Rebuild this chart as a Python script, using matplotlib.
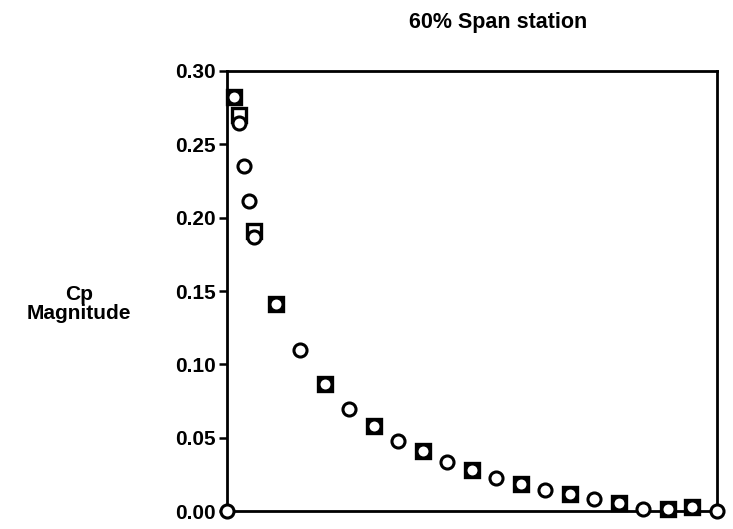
import matplotlib.pyplot as plt

plt.rcParams["font.family"] = ["Liberation Sans", "DejaVu Sans"]
plt.rcParams["font.weight"] = "bold"

# Chordwise station (x/c) and pressure coefficient magnitude, 60% span
x_circle = [0.0, 0.015, 0.025, 0.035, 0.045, 0.055, 0.10, 0.15, 0.20, 0.25,
            0.30, 0.35, 0.40, 0.45, 0.50, 0.55, 0.60, 0.65, 0.70, 0.75,
            0.80, 0.85, 0.90, 0.95, 1.0]
cp_circle = [0.0, 0.282, 0.264, 0.235, 0.211, 0.187, 0.141, 0.110, 0.087, 0.070,
             0.058, 0.048, 0.041, 0.034, 0.028, 0.023, 0.0185, 0.0146, 0.012, 0.0085,
             0.006, 0.002, 0.0015, 0.003, 0.0]

x_square = [0.015, 0.025, 0.055, 0.10, 0.20, 0.30, 0.40, 0.50, 0.60, 0.70,
            0.80, 0.90, 0.95]
cp_square = [0.282, 0.270, 0.191, 0.141, 0.087, 0.058, 0.041, 0.028, 0.0185, 0.012,
             0.006, 0.0015, 0.003]

y_ticks = [0.0, 0.05, 0.10, 0.15, 0.20, 0.25, 0.30]
y_tick_labels = ["0.00", "0.05", "0.10", "0.15", "0.20", "0.25", "0.30"]

fig = plt.figure(figsize=(7.33, 5.29), dpi=100)
ax = fig.add_axes([0.3097, 0.0331, 0.6683, 0.8336])

ax.plot(x_square, cp_square, linestyle="none", marker="s", markersize=9.7,
        markerfacecolor="white", markeredgecolor="black", markeredgewidth=2.4,
        clip_on=False, zorder=3)
ax.plot(x_circle, cp_circle, linestyle="none", marker="o", markersize=9.4,
        markerfacecolor="white", markeredgecolor="black", markeredgewidth=2.2,
        clip_on=False, zorder=4)

ax.set_xlim(0, 1.0)
ax.set_ylim(0, 0.30)
ax.set_xticks([])
ax.set_yticks(y_ticks)
ax.set_yticklabels(y_tick_labels, fontsize=15, fontweight="bold")
ax.tick_params(axis="y", direction="out", length=6, width=1.8, pad=2)

for spine in ax.spines.values():
    spine.set_linewidth(2.0)

fig.text(0.108, 0.425, "Cp\nMagnitude", ha="center", va="center",
         fontsize=15, fontweight="bold", linespacing=1.0)
fig.text(0.679, 0.958, "60% Span station", ha="center", va="center",
         fontsize=15.5, fontweight="bold")

fig.savefig("out.png", dpi=100)
